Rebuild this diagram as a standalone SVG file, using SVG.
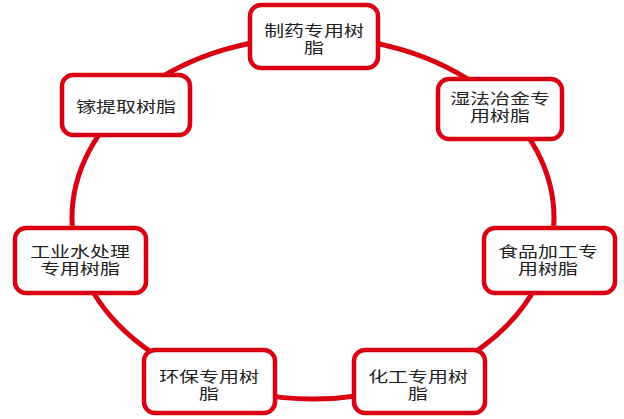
<svg xmlns="http://www.w3.org/2000/svg" width="624" height="419" viewBox="0 0 624 419">
<style>
.box{fill:#fff;stroke:#D90012;stroke-width:4.5}
.ring{fill:none;stroke:#D90012;stroke-width:5}
text{font-family:"Liberation Sans","Noto Sans CJK SC",sans-serif;font-size:15px;fill:#222;text-anchor:middle}
</style>
<g id="connectors">
<ellipse class="ring" cx="313" cy="218" rx="241" ry="181"/>
</g>
<g id="n1">
<rect class="box" x="250" y="5" width="128" height="63" rx="11"/>
<text transform="translate(314,35.5) scale(1.33,1)"><tspan x="0" y="0">制药专用树</tspan><tspan x="0" y="18">脂</tspan></text>
</g>
<g id="n2">
<rect class="box" x="438" y="79" width="124" height="60" rx="11"/>
<text transform="translate(500,103.5) scale(1.33,1)"><tspan x="0" y="0">湿法冶金专</tspan><tspan x="0" y="18">用树脂</tspan></text>
</g>
<g id="n3">
<rect class="box" x="62" y="75" width="128" height="60" rx="11"/>
<text transform="translate(126,112) scale(1.33,1)">镓提取树脂</text>
</g>
<g id="n4">
<rect class="box" x="15" y="228" width="131" height="65" rx="11"/>
<text transform="translate(80,256.5) scale(1.33,1)"><tspan x="0" y="0">工业水处理</tspan><tspan x="0" y="18">专用树脂</tspan></text>
</g>
<g id="n5">
<rect class="box" x="484" y="228" width="131" height="65" rx="11"/>
<text transform="translate(548,256.5) scale(1.33,1)"><tspan x="0" y="0">食品加工专</tspan><tspan x="0" y="18">用树脂</tspan></text>
</g>
<g id="n6">
<rect class="box" x="144" y="350" width="131" height="63" rx="11"/>
<text transform="translate(209,381.5) scale(1.33,1)"><tspan x="0" y="0">环保专用树</tspan><tspan x="0" y="18">脂</tspan></text>
</g>
<g id="n7">
<rect class="box" x="354" y="350" width="131" height="63" rx="11"/>
<text transform="translate(418,381.5) scale(1.33,1)"><tspan x="0" y="0">化工专用树</tspan><tspan x="0" y="18">脂</tspan></text>
</g>
</svg>
